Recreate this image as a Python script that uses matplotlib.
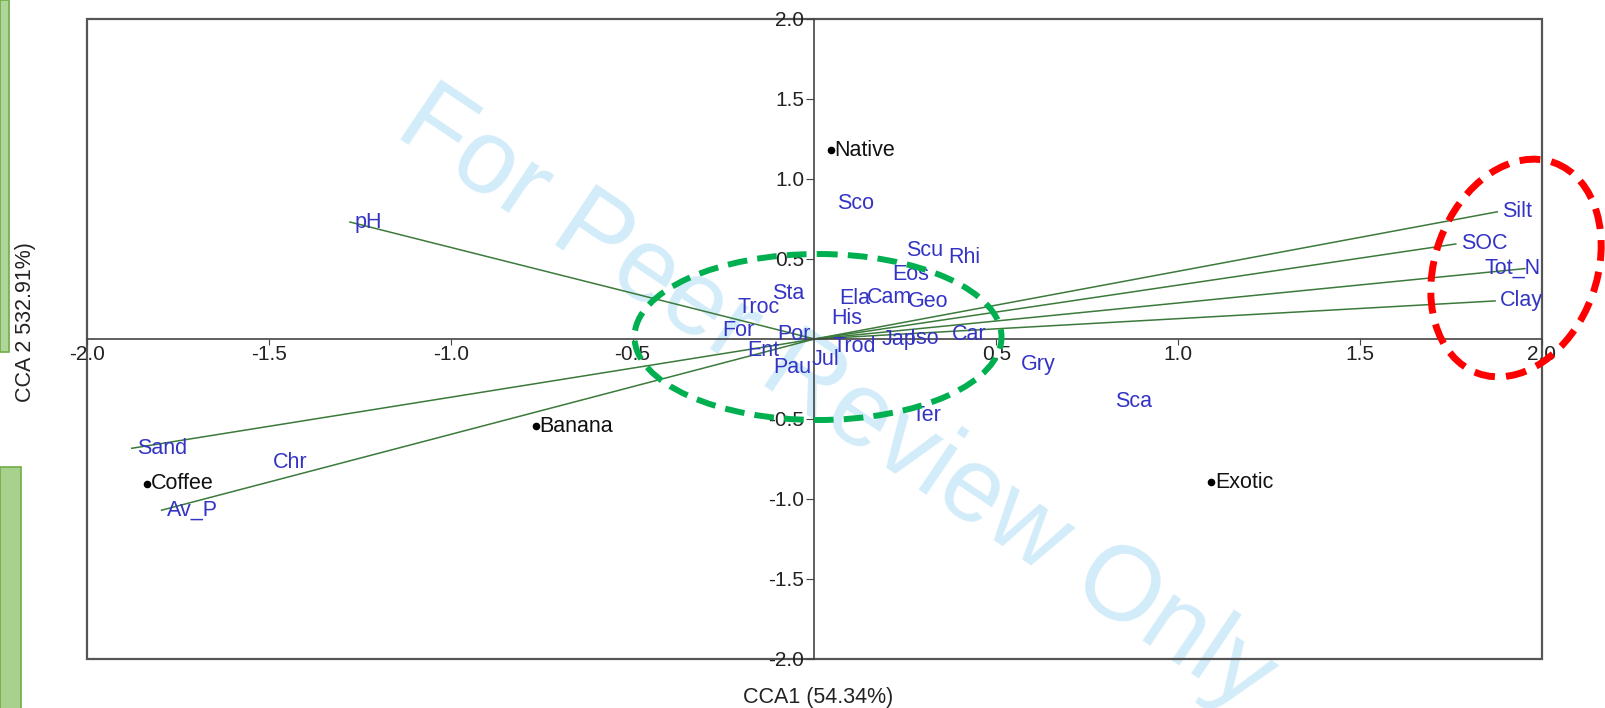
import matplotlib
matplotlib.use("Agg")
import matplotlib.pyplot as plt
from matplotlib.patches import Ellipse, Rectangle

plt.rcParams['font.family'] = ['Liberation Sans', 'DejaVu Sans']
plt.rcParams['axes.unicode_minus'] = False

# species scores (blue labels)
species = ['Sco', 'Scu', 'Rhi', 'Eos', 'Sta', 'Ela', 'Cam', 'Geo', 'Troc', 'His',
           'For', 'Por', 'Car', 'Jap', 'Iso', 'Trod', 'Ent', 'Jul', 'Pau', 'Ter',
           'Gry', 'Sca', 'Chr']
species_x = [0.062, 0.252, 0.367, 0.213, -0.117, 0.067, 0.144, 0.257, -0.213, 0.045,
             -0.254, -0.103, 0.378, 0.185, 0.262, 0.050, -0.186, -0.007, -0.114, 0.268,
             0.568, 0.826, -1.489]
species_y = [0.844, 0.556, 0.510, 0.400, 0.287, 0.250, 0.260, 0.237, 0.194, 0.125,
             0.056, 0.031, 0.031, 0.000, 0.000, -0.050, -0.075, -0.131, -0.181, -0.480,
             -0.162, -0.390, -0.770]

# site scores (black dots)
sites = ['Native', 'Banana', 'Coffee', 'Exotic']
site_x = [0.044, -0.767, -1.835, 1.090]
site_y = [1.180, -0.544, -0.906, -0.894]

# environmental vectors
env = ['pH', 'Sand', 'Av_P', 'Silt', 'SOC', 'Tot_N', 'Clay']
env_x = [-1.277, -1.877, -1.795, 1.877, 1.763, 1.953, 1.871]
env_y = [0.731, -0.683, -1.070, 0.795, 0.594, 0.440, 0.238]

ticks = [-2.0, -1.5, -1.0, -0.5, 0.5, 1.0, 1.5, 2.0]

W, H = 1606, 708
fig = plt.figure(figsize=(W / 100, H / 100), dpi=100)

# background layer in pixel coords: watermark + green boxes
bg = fig.add_axes([0, 0, 1, 1], zorder=0)
bg.set_xlim(0, W)
bg.set_ylim(H, 0)
bg.axis('off')
bg.text(392, 135, 'For Peer Review Only', fontsize=76, rotation=-34,
        rotation_mode='anchor', ha='left', va='baseline', color='#d3ecfa')
bg.add_patch(Rectangle((0, 0), 9, 352, fc='#afd59a', ec='#70ad47', lw=1.2))
bg.add_patch(Rectangle((0, 467), 21, 245, fc='#a9d18e', ec='#70ad47', lw=1.2))

# main biplot
ax = fig.add_axes([87 / W, (H - 659) / H, (1542 - 87) / W, (659 - 19) / H], zorder=1)
ax.set_facecolor('none')
ax.set_xlim(-2, 2)
ax.set_ylim(-2, 2)
ax.spines['left'].set_position(('data', 0))
ax.spines['bottom'].set_position(('data', 0))
ax.spines['top'].set_visible(False)
ax.spines['right'].set_visible(False)
for s in ['left', 'bottom']:
    ax.spines[s].set_color('#444444')
    ax.spines[s].set_linewidth(1.2)
ax.add_patch(Rectangle((0, 0), 1, 1, transform=ax.transAxes, fill=False,
                       ec='#555555', lw=1.6, clip_on=False))
ax.set_xticks(ticks)
ax.set_yticks(ticks)
ax.set_xticklabels(['%.1f' % t for t in ticks])
ax.set_yticklabels(['%.1f' % t for t in ticks])
ax.tick_params(axis='x', direction='out', length=4, pad=0, labelsize=15,
               color='#444444', labelcolor='#222222')
ax.tick_params(axis='y', direction='out', length=5.5, pad=2, labelsize=15,
               color='#444444', labelcolor='#222222')

for name, x, y in zip(env, env_x, env_y):
    ax.plot([0, x], [0, y], color='#3c7a3c', lw=1.1, zorder=2)
    dx = -40 if name == 'Tot_N' else 5
    ax.annotate(name, (x, y), xytext=(dx * 0.72, 0), textcoords='offset points',
                ha='left', va='center', fontsize=15.5, color='#3434c4', zorder=3,
                annotation_clip=False, clip_on=True)

for name, x, y in zip(species, species_x, species_y):
    ax.text(x, y, name, ha='left', va='center', fontsize=15.5, color='#3434c4', zorder=3)

ax.scatter(site_x, site_y, s=20, color='black', zorder=4)
for name, x, y in zip(sites, site_x, site_y):
    ax.annotate(name, (x, y), xytext=(3, 0), textcoords='offset points',
                ha='left', va='center', fontsize=15.5, color='#111111', zorder=4)

fig.text(818 / W, 1 - 697 / H, 'CCA1 (54.34%)', ha='center', va='center',
         fontsize=15.5, color='#222222')
fig.text(26 / W, 1 - 322 / H, 'CCA 2 532.91%)', ha='center', va='center',
         rotation=90, fontsize=15.5, color='#222222')

# annotation ellipses on top, pixel coords
ov = fig.add_axes([0, 0, 1, 1], zorder=3)
ov.set_facecolor('none')
ov.set_xlim(0, W)
ov.set_ylim(H, 0)
ov.axis('off')
ov.add_patch(Ellipse((818, 337), 367, 166, fill=False, ec='#00b050', lw=4.3,
                     ls=(0, (3.3, 1.7))))
ov.add_patch(Ellipse((1516, 268), 162, 224, angle=20, fill=False, ec='#ff0000',
                     lw=5, ls=(0, (3.0, 1.6))))

fig.savefig('out.png', dpi=100)
